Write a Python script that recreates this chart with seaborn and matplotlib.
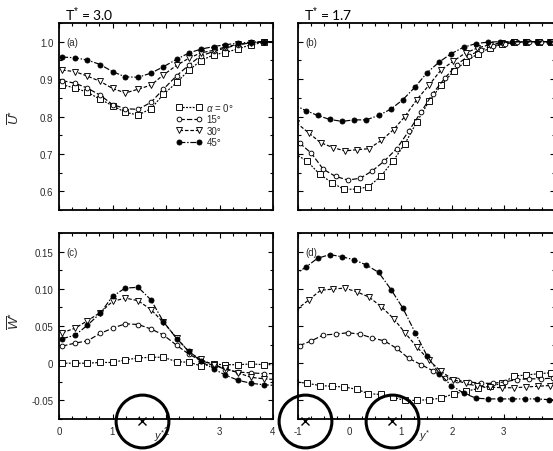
import matplotlib
matplotlib.use('Agg')
import matplotlib.pyplot as plt
import seaborn as sns
from matplotlib.ticker import MultipleLocator, FixedLocator, FixedFormatter

sns.set_theme(style='ticks')
plt.rcParams['font.family'] = ['Liberation Sans', 'DejaVu Sans']
plt.rcParams['mathtext.fontset'] = 'custom'
plt.rcParams['mathtext.rm'] = 'Liberation Sans'
plt.rcParams['mathtext.it'] = 'Liberation Sans:italic'

# ---- left column, T* = 3.0 ----
left_x = [0.06, 0.30, 0.53, 0.77, 1.00, 1.24, 1.48, 1.72, 1.95, 2.20, 2.43, 2.65,
          2.89, 3.11, 3.35, 3.59, 3.83, 4.07]
a_u0 = [0.885, 0.876, 0.865, 0.846, 0.829, 0.811, 0.804, 0.821, 0.859, 0.891, 0.924,
        0.949, 0.965, 0.971, 0.981, 0.992, 0.998, 1.0]
a_u15 = [0.896, 0.889, 0.876, 0.857, 0.832, 0.821, 0.819, 0.838, 0.873, 0.909, 0.938,
         0.962, 0.974, 0.983, 0.992, 0.997, 1.0, 1.0]
a_u30 = [0.924, 0.920, 0.908, 0.894, 0.875, 0.863, 0.873, 0.884, 0.911, 0.937, 0.956,
         0.970, 0.977, 0.986, 0.993, 0.997, 1.0, 1.0]
a_u45 = [0.959, 0.957, 0.951, 0.939, 0.920, 0.906, 0.905, 0.916, 0.933, 0.953, 0.970,
         0.980, 0.987, 0.992, 0.996, 0.999, 1.0, 1.0]

c_w0 = [0.0, 0.0, 0.0, 0.001, 0.001, 0.0045, 0.007, 0.008, 0.008, 0.002, 0.0013,
        -0.0036, -0.0013, -0.002, -0.002, -0.001, -0.002, -0.002]
c_w15 = [0.023, 0.027, 0.030, 0.040, 0.047, 0.053, 0.052, 0.046, 0.038, 0.024, 0.012,
         0.0036, -0.002, -0.0085, -0.012, -0.013, -0.014, -0.014]
c_w30 = [0.041, 0.047, 0.057, 0.068, 0.083, 0.0875, 0.084, 0.072, 0.055, 0.034, 0.015,
         0.005, -0.002, -0.007, -0.013, -0.019, -0.021, -0.022]
c_w45 = [0.033, 0.0375, 0.051, 0.067, 0.090, 0.101, 0.102, 0.085, 0.056, 0.033, 0.016,
         0.0027, -0.0076, -0.016, -0.023, -0.027, -0.029, -0.030]

# ---- right column, T* = 1.7 ----
r_x0 = [-1.05, -0.82, -0.58, -0.34, -0.10, 0.14, 0.37, 0.61, 0.85, 1.08, 1.31, 1.55,
        1.79, 2.03, 2.26, 2.50, 2.74, 2.97, 3.21, 3.44, 3.68, 3.92, 4.15]
r_x15 = [-0.97, -0.74, -0.51, -0.27, -0.03, 0.21, 0.44, 0.68, 0.92, 1.15, 1.39, 1.62,
         1.86, 2.09, 2.32, 2.56, 2.79, 3.03, 3.26, 3.50, 3.73, 3.97, 4.20]
r_x30 = [-1.03, -0.79, -0.56, -0.32, -0.09, 0.14, 0.38, 0.62, 0.86, 1.08, 1.31, 1.55,
         1.78, 2.02, 2.26, 2.49, 2.73, 2.96, 3.20, 3.43, 3.67, 3.90, 4.14]
r_x45 = [-1.09, -0.85, -0.62, -0.38, -0.14, 0.09, 0.33, 0.57, 0.81, 1.04, 1.28, 1.51,
         1.75, 1.98, 2.22, 2.46, 2.70, 2.93, 3.17, 3.41, 3.65, 3.88, 4.12]

b_u0 = [0.700, 0.680, 0.646, 0.623, 0.605, 0.606, 0.612, 0.640, 0.681, 0.727, 0.785,
        0.841, 0.884, 0.922, 0.946, 0.968, 0.983, 0.993, 0.998, 1.0, 1.0, 1.0, 1.0]
b_u15 = [0.729, 0.702, 0.659, 0.640, 0.630, 0.635, 0.654, 0.681, 0.714, 0.760, 0.811,
         0.861, 0.903, 0.939, 0.962, 0.978, 0.989, 0.995, 0.998, 1.0, 1.0, 1.0, 1.0]
b_u30 = [0.783, 0.756, 0.730, 0.717, 0.708, 0.711, 0.714, 0.736, 0.765, 0.800, 0.845,
         0.884, 0.924, 0.948, 0.970, 0.983, 0.992, 0.997, 1.0, 1.0, 1.0, 1.0, 1.0]
b_u45 = [0.832, 0.816, 0.803, 0.792, 0.787, 0.791, 0.791, 0.803, 0.820, 0.845, 0.879,
         0.917, 0.946, 0.968, 0.985, 0.995, 0.999, 1.0, 1.0, 1.0, 1.0, 1.0, 1.0]

d_w0 = [-0.025, -0.027, -0.030, -0.031, -0.032, -0.035, -0.041, -0.042, -0.046, -0.050,
        -0.050, -0.049, -0.047, -0.041, -0.038, -0.034, -0.031, -0.027, -0.017, -0.016,
        -0.014, -0.013, -0.013]
d_w15 = [0.0237, 0.030, 0.038, 0.039, 0.041, 0.039, 0.034, 0.030, 0.020, 0.0067, -0.0018,
         -0.010, -0.020, -0.023, -0.025, -0.027, -0.027, -0.025, -0.022, -0.021, -0.021,
         -0.020, -0.020]
d_w30 = [0.072, 0.085, 0.098, 0.0996, 0.101, 0.096, 0.089, 0.076, 0.060, 0.041, 0.022,
         0.004, -0.011, -0.022, -0.027, -0.031, -0.032, -0.033, -0.033, -0.032, -0.031,
         -0.030, -0.030]
d_w45 = [0.118, 0.129, 0.141, 0.146, 0.143, 0.139, 0.132, 0.122, 0.099, 0.074, 0.041,
         0.010, -0.014, -0.030, -0.040, -0.047, -0.048, -0.048, -0.048, -0.048, -0.048,
         -0.049, -0.049]

legend_labels = [r'$\alpha$ = 0°', '15°', '30°', '45°']
col_titles = ['3.0', '1.7']
panel_tags = ['(a)', '(b)', '(c)', '(d)']
vortex_left = [1.55]
vortex_right = [-0.86, 0.83]

u_ticks = [0.6, 0.7, 0.8, 0.9, 1.0]
u_tick_labels = ['0.6', '0.7', '0.8', '0.9', '1.0']
w_ticks = [-0.05, 0.0, 0.05, 0.10, 0.15]
w_tick_labels = ['-0.05', '0', '0.05', '0.10', '0.15']
left_xticks = [0, 1, 2, 3, 4]
left_xtick_labels = ['0', '1', '2', '3', '4']
right_xticks = [-1, 0, 1, 2, 3]
right_xtick_labels = ['-1', '0', '1', '2', '3']

styles = [
    dict(marker='s', markerfacecolor='white', markersize=3.8, linestyle=(0, (1.6, 1.2))),
    dict(marker='o', markerfacecolor='white', markersize=3.4, linestyle=(0, (4.5, 1.8))),
    dict(marker='v', markerfacecolor='white', markersize=4.0, linestyle=(0, (3, 1.6))),
    dict(marker='o', markerfacecolor='black', markersize=3.6, linestyle=(0, (5, 1.5, 1.2, 1.5))),
]

W, H = 553, 452
fig = plt.figure(figsize=(W / 100, H / 100), dpi=100)
ax_a = fig.add_axes([59 / W, 1 - 211 / H, 214 / W, 187 / H])
ax_b = fig.add_axes([298 / W, 1 - 211 / H, 257 / W, 187 / H])
ax_c = fig.add_axes([59 / W, 1 - 420 / H, 214 / W, 186 / H])
ax_d = fig.add_axes([298 / W, 1 - 420 / H, 257 / W, 186 / H])

tick_col = '#2b2b2b'


def draw(ax, xs, ys):
    for x, y, st in zip(xs, ys, styles):
        sns.lineplot(x=x, y=y, ax=ax, color='black', lw=0.85, markeredgecolor='black',
                     markeredgewidth=0.65, estimator=None, sort=False, legend=False,
                     errorbar=None, **st)


draw(ax_a, [left_x] * 4, [a_u0, a_u15, a_u30, a_u45])
draw(ax_c, [left_x] * 4, [c_w0, c_w15, c_w30, c_w45])
draw(ax_b, [r_x0, r_x15, r_x30, r_x45], [b_u0, b_u15, b_u30, b_u45])
draw(ax_d, [r_x0, r_x15, r_x30, r_x45], [d_w0, d_w15, d_w30, d_w45])

for ax in [ax_a, ax_b, ax_c, ax_d]:
    ax.set_xlabel('')
    ax.set_ylabel('')
    for s in ax.spines.values():
        s.set_linewidth(1.3)
        s.set_color('black')
    ax.tick_params(which='both', direction='in', top=True, right=True,
                   color='black', labelcolor=tick_col, labelsize=7, pad=4)
    ax.tick_params(which='major', length=3.5, width=0.8)
    ax.tick_params(which='minor', length=2.5, width=0.8)

for ax in [ax_a, ax_c]:
    ax.set_xlim(0, 4)
    ax.xaxis.set_major_locator(FixedLocator(left_xticks))
    ax.xaxis.set_major_formatter(FixedFormatter(left_xtick_labels))
for ax in [ax_b, ax_d]:
    ax.set_xlim(-1, 4)
    ax.xaxis.set_major_locator(FixedLocator(right_xticks))
    ax.xaxis.set_major_formatter(FixedFormatter(right_xtick_labels))
for ax in [ax_a, ax_b, ax_c, ax_d]:
    ax.xaxis.set_minor_locator(MultipleLocator(0.25))

for ax in [ax_a, ax_b]:
    ax.set_ylim(0.55, 1.05)
    ax.yaxis.set_major_locator(FixedLocator(u_ticks))
    ax.yaxis.set_major_formatter(FixedFormatter(u_tick_labels))
    ax.yaxis.set_minor_locator(MultipleLocator(0.05))
    ax.tick_params(labelbottom=False)
for ax in [ax_c, ax_d]:
    ax.set_ylim(-0.075, 0.175)
    ax.yaxis.set_major_locator(FixedLocator(w_ticks))
    ax.yaxis.set_major_formatter(FixedFormatter(w_tick_labels))
    ax.yaxis.set_minor_locator(MultipleLocator(0.025))
    ax.tick_params(axis='x', pad=5)
for ax in [ax_b, ax_d]:
    ax.tick_params(labelleft=False)

# axis labels
ax_a.set_ylabel(r'$\overline{U}^{*}$', fontsize=9.5, color=tick_col)
ax_a.yaxis.set_label_coords(-0.17, 0.5)
ax_c.set_ylabel(r'$\overline{W}^{*}$', fontsize=9.5, color=tick_col)
ax_c.yaxis.set_label_coords(-0.17, 0.53)
ax_c.set_xlabel(r'$y^{*}$', fontsize=8, color=tick_col)
ax_c.xaxis.set_label_coords(0.47, -0.045)
ax_d.set_xlabel(r'$y^{*}$', fontsize=8, color=tick_col)
ax_d.xaxis.set_label_coords(0.494, -0.045)

# column titles and panel tags
for ax, t in zip([ax_a, ax_b], col_titles):
    ax.annotate('T$^{*}$ = ' + t, xy=(0, 1), xycoords='axes fraction',
                xytext=(6, 9), textcoords='offset pixels', ha='left', va='center',
                fontsize=10, family=['Lato', 'DejaVu Sans'], color='black')
for ax, t in zip([ax_a, ax_b, ax_c, ax_d], panel_tags):
    ax.annotate(t, xy=(0, 1), xycoords='axes fraction', xytext=(7, -19),
                textcoords='offset pixels', ha='left', va='center', fontsize=7,
                color=tick_col)

# legend
handles = ax_a.get_lines()[:4]
ax_a.legend(handles, legend_labels, loc='upper left', bbox_to_anchor=(0.53, 0.605),
            frameon=False, fontsize=7, handlelength=2.6, handletextpad=0.5,
            labelspacing=0.15, numpoints=2, borderaxespad=0, labelcolor=tick_col)

# circled x markers on the bottom axes
for ax, xs in [(ax_c, vortex_left), (ax_d, vortex_right)]:
    for xv in xs:
        ax.plot([xv], [-0.01], transform=ax.get_xaxis_transform(), marker='o',
                markersize=38, markerfacecolor='none', markeredgecolor='black',
                markeredgewidth=2.2, clip_on=False, zorder=10)
        ax.plot([xv], [-0.01], transform=ax.get_xaxis_transform(), marker='x',
                markersize=6, markeredgecolor='black', markeredgewidth=1.0,
                clip_on=False, zorder=10)

fig.savefig('out.png', dpi=100)
